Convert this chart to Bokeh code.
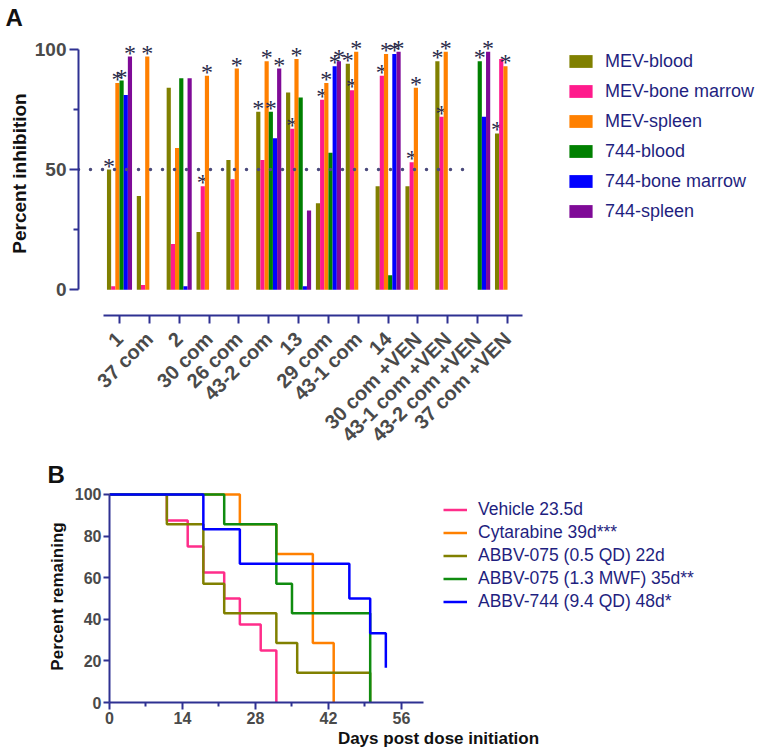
import math
from bokeh.plotting import figure
from bokeh.models import (ColumnDataSource, FixedTicker, Legend, LegendItem,
                          Range1d)
from bokeh.embed import file_html
from bokeh.resources import INLINE
from bokeh.transform import dodge

# ---------------- Data: panel A ----------------
categories = ["1", "37 com", "2", "30 com", "26 com", "43-2 com", "13",
              "29 com", "43-1 com", "14", "30 com +VEN", "43-1 com +VEN",
              "43-2 com +VEN", "37 com +VEN"]
series_names = ["MEV-blood", "MEV-bone marrow", "MEV-spleen",
                "744-blood", "744-bone marrow", "744-spleen"]
mev_blood = [50, 39, 84, 24, 54, 74, 82, 36, 94, 43, 43, 95, None, 65]
mev_marrow = [1.5, 2, 19, 43, 46, 54, 67, 79, 83, 89, 53, 72, None, 96]
mev_spleen = [86, 97, 59, 89, 92, 95, 96, 86, 99, 98, 84, 99, None, 93]
b744_blood = [87, None, 88, None, None, 74, 80, 57, None, 6, None, None, 95, None]
b744_marrow = [81, None, 1.5, None, None, 63, 1.5, 93, None, 98, None, None, 72, None]
b744_spleen = [97, None, 88, None, None, 92, 33, 95, None, 99, None, None, 99, None]
# significance flags (asterisks)
star_mev_blood = [1, 0, 0, 0, 0, 1, 0, 0, 1, 0, 0, 1, 0, 1]
star_mev_marrow = [0, 0, 0, 1, 0, 0, 1, 1, 1, 1, 1, 1, 0, 0]
star_mev_spleen = [1, 1, 0, 1, 1, 1, 1, 1, 1, 1, 1, 1, 0, 1]
star_744_blood = [1, 0, 0, 0, 0, 1, 0, 0, 0, 0, 0, 0, 1, 0]
star_744_marrow = [0, 0, 0, 0, 0, 0, 0, 1, 0, 1, 0, 0, 0, 0]
star_744_spleen = [1, 0, 0, 0, 0, 1, 0, 1, 0, 1, 0, 0, 1, 0]
threshold = 50
y_ticks_a = [0, 50, 100]
y_minor_a = [25, 75]

# ---------------- Data: panel B ----------------
surv_names = ["Vehicle 23.5d", "Cytarabine 39d***", "ABBV-075 (0.5 QD) 22d",
              "ABBV-075 (1.3 MWF) 35d**", "ABBV-744 (9.4 QD) 48d*"]
vehicle_days = [0, 11, 15, 18, 22, 25, 29, 32]
vehicle_pct = [100, 87.5, 75, 62.5, 50, 37.5, 25, 0]
cytarabine_days = [0, 25, 32, 39, 43]
cytarabine_pct = [100, 85.7, 71.4, 28.6, 0]
abbv075_qd_days = [0, 11, 18, 22, 32, 36, 50]
abbv075_qd_pct = [100, 85.7, 57.1, 42.9, 28.6, 14.3, 0]
abbv075_mwf_days = [0, 22, 32, 35, 50]
abbv075_mwf_pct = [100, 85.7, 57.1, 42.9, 0]
abbv744_days = [0, 18, 25, 46, 50, 53]
abbv744_pct = [100, 83.3, 66.7, 50, 33.3, 16.7]
x_ticks_b = [0, 14, 28, 42, 56]
x_minor_b = [7, 21, 35, 49]
y_ticks_b = [0, 20, 40, 60, 80, 100]

# ---------------- Styles ----------------
FONT = "Liberation Sans"
AXIS = "#2e3192"
TICKLAB = "#4a4a4a"
NAVY = "#1f1f80"
bar_colors = ["#808000", "#ff1a8c", "#ff8000", "#008000", "#0000ff", "#7f0a97"]
line_colors = ["#ff2d8a", "#ff8000", "#808000", "#108c10", "#0000ff"]


def style_axis(ax, tick_size, label_size):
    ax.axis_line_color = AXIS
    ax.axis_line_width = 2
    ax.major_tick_line_color = AXIS
    ax.major_tick_line_width = 2
    ax.minor_tick_line_color = AXIS
    ax.minor_tick_line_width = 2
    ax.major_tick_in = 0
    ax.minor_tick_in = 0
    ax.major_label_text_font = FONT
    ax.major_label_text_font_style = "bold"
    ax.major_label_text_color = TICKLAB
    ax.major_label_text_font_size = tick_size
    ax.axis_label_text_font = FONT
    ax.axis_label_text_font_style = "bold"
    ax.axis_label_text_color = "#111111"
    ax.axis_label_text_font_size = label_size


def style_title(p, text, offset, standoff):
    p.title.text = text
    p.title.align = "left"
    p.title.offset = offset
    p.title.standoff = standoff
    p.title.text_font = FONT
    p.title.text_font_size = "24px"
    p.title.text_font_style = "bold"
    p.title.text_color = "#111111"


# ================= Panel A =================
pa = figure(width=767, height=456, output_backend="svg", toolbar_location=None,
            x_range=Range1d(-0.3735, 22.71), y_range=Range1d(-10.7, 107.4),
            min_border_left=78, min_border_right=0, min_border_top=30,
            min_border_bottom=139)
pa.outline_line_color = None
pa.xgrid.visible = False
pa.ygrid.visible = False
style_title(pa, "A", -73, 2)

xs = list(range(1, len(categories) + 1))
style_axis(pa.xaxis, "20px", "19px")
style_axis(pa.yaxis, "19px", "19px")
pa.xaxis.ticker = FixedTicker(ticks=xs, minor_ticks=[])
pa.xaxis.major_label_overrides = {x: c for x, c in zip(xs, categories)}
pa.xaxis.bounds = (0.464, 14.5)
pa.xaxis.major_label_orientation = math.pi / 4
pa.xaxis.major_tick_out = 8
pa.xaxis.major_label_standoff = 12
pa.yaxis.ticker = FixedTicker(ticks=y_ticks_a, minor_ticks=y_minor_a)
pa.yaxis.bounds = (0, 100)
pa.yaxis.major_tick_out = 9
pa.yaxis.minor_tick_out = 5
pa.yaxis.major_label_standoff = 3
pa.yaxis.axis_label = "Percent inhibition"
pa.yaxis.axis_label_standoff = 2

series_vals = [mev_blood, mev_marrow, mev_spleen, b744_blood, b744_marrow, b744_spleen]
series_stars = [star_mev_blood, star_mev_marrow, star_mev_spleen,
                star_744_blood, star_744_marrow, star_744_spleen]
bar_w = 0.14
items_a = []
for k, (name, vals, stars, col) in enumerate(zip(series_names, series_vals,
                                                  series_stars, bar_colors)):
    off = (k - 2.5) * bar_w
    bx = [x for x, v in zip(xs, vals) if v is not None]
    bt = [v for v in vals if v is not None]
    src = ColumnDataSource(dict(x=bx, top=bt))
    r = pa.vbar(x=dodge("x", off), top="top", width=bar_w, bottom=0, source=src,
                fill_color=col, line_color=None)
    items_a.append(LegendItem(label=name, renderers=[r]))
    sx = [x for x, v, s in zip(xs, vals, stars) if v is not None and s]
    sy = [v for v, s in zip(vals, stars) if v is not None and s]
    ssrc = ColumnDataSource(dict(x=sx, y=sy, t=["*"] * len(sx)))
    pa.text(x=dodge("x", off), y="y", text="t", source=ssrc,
            text_font_size="24px", text_font=FONT, text_color="#2a2a4a",
            text_align="center", text_baseline="alphabetic", y_offset=-4)

pa.line(x=[pa.x_range.start, 12.6], y=[threshold, threshold], line_dash="0 12",
        line_cap="round", line_width=3.5, line_color="#4a4a7c")

leg_a = Legend(items=items_a, location=(488, 89), glyph_width=29, glyph_height=16,
               label_standoff=10, label_height=30, spacing=0, padding=0, margin=0,
               border_line_color=None, background_fill_alpha=0,
               label_text_font_size="18px", label_text_font=FONT,
               label_text_color=NAVY)
pa.add_layout(leg_a)

# ================= Panel B =================
pb = figure(width=767, height=299, output_backend="svg", toolbar_location=None,
            x_range=Range1d(0, 126.2), y_range=Range1d(0, 101.9),
            min_border_left=109, min_border_right=0, min_border_top=34,
            min_border_bottom=53)
pb.outline_line_color = None
pb.xgrid.visible = False
pb.ygrid.visible = False
style_title(pb, "B", -62, 5)
style_axis(pb.xaxis, "16px", "17px")
style_axis(pb.yaxis, "16px", "17px")
pb.xaxis.ticker = FixedTicker(ticks=x_ticks_b, minor_ticks=x_minor_b)
pb.xaxis.bounds = (0, 60.2)
pb.xaxis.major_tick_out = 7
pb.xaxis.minor_tick_out = 4
pb.xaxis.major_label_standoff = 2
pb.xaxis.axis_label = "Days post dose initiation"
pb.xaxis.axis_label_standoff = 2
pb.yaxis.ticker = FixedTicker(ticks=y_ticks_b, minor_ticks=[])
pb.yaxis.bounds = (0, 100)
pb.yaxis.major_tick_out = 6
pb.yaxis.major_label_standoff = 2
pb.yaxis.axis_label = "Percent remaining"
pb.yaxis.axis_label_standoff = 5

surv_days = [vehicle_days, cytarabine_days, abbv075_qd_days, abbv075_mwf_days, abbv744_days]
surv_pct = [vehicle_pct, cytarabine_pct, abbv075_qd_pct, abbv075_mwf_pct, abbv744_pct]
items_b = []
for name, d, s, col in zip(surv_names, surv_days, surv_pct, line_colors):
    r = pb.step(x=d, y=s, mode="after", line_width=2.5, line_color=col)
    items_b.append(LegendItem(label=name, renderers=[r]))

leg_b = Legend(items=items_b, location=(334, 90), glyph_width=24, glyph_height=21,
               label_standoff=11, label_height=21, spacing=2, padding=0, margin=0,
               border_line_color=None, background_fill_alpha=0,
               label_text_font_size="17.5px", label_text_font=FONT,
               label_text_color=NAVY)
pb.add_layout(leg_b)

open("out.html", "w").write(file_html([pa, pb], INLINE))
